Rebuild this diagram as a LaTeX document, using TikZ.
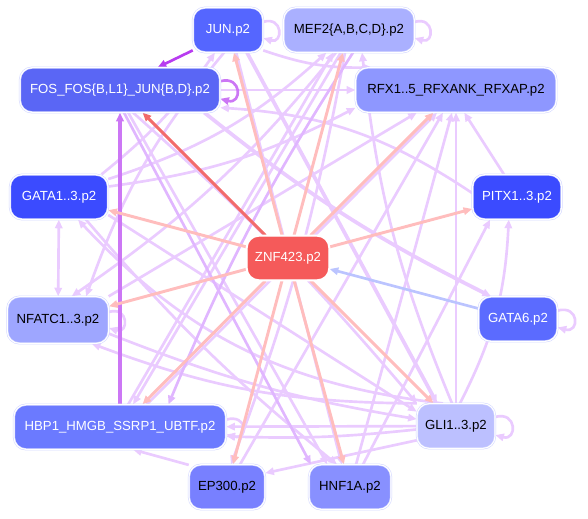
\documentclass[tikz,border=0pt]{standalone}
\usepackage{fontspec}
\setmainfont{Liberation Sans}
\usetikzlibrary{arrows.meta,backgrounds}
\definecolor{deepblue}{HTML}{3B4BFF}
\definecolor{junblue}{HTML}{5566FF}
\definecolor{fosblue}{HTML}{5A66F5}
\definecolor{gsixblue}{HTML}{5B6BFF}
\definecolor{hbpblue}{HTML}{6B7AFF}
\definecolor{epblue}{HTML}{7880FF}
\definecolor{hnfblue}{HTML}{8890FF}
\definecolor{rfxblue}{HTML}{8E97FF}
\definecolor{nfatblue}{HTML}{9EA6FF}
\definecolor{mefblue}{HTML}{AAB0FF}
\definecolor{gliblue}{HTML}{BCC0FF}
\definecolor{znfred}{HTML}{F55A5A}
\definecolor{rim}{HTML}{D2D6FF}
\definecolor{lilac}{HTML}{EACBFF}
\definecolor{lilacdark}{HTML}{E0B6FF}
\definecolor{orchid}{HTML}{CC77F5}
\definecolor{violet}{HTML}{B83CF0}
\definecolor{rosy}{HTML}{FFBDBD}
\definecolor{rosydark}{HTML}{F26B6B}
\definecolor{paleblue}{HTML}{BBC4FF}

\begin{document}
\begin{tikzpicture}[x=0.75pt, y=-0.75pt, >={Triangle[length=6.5pt,width=5.5pt]},
    font=\fontsize{9.9}{12}\selectfont,
    tf/.style={rounded corners=9pt, draw=rim, double=white, double distance=0.8pt,
      line width=0.4pt, minimum height=33.5pt, inner sep=0pt},
    lil/.style={->, draw=lilac, line width=2pt},
    lilbold/.style={->, draw=lilac, line width=2.8pt},
    rose/.style={->, draw=rosy, line width=2.2pt}]
  \useasboundingbox (0,0) rectangle (588,518);

  % transcription factor nodes
  \node[tf, fill=junblue, text=white, minimum width=52.5pt] (jun) at (228,30) {JUN.p2};
  \node[tf, fill=mefblue, minimum width=98pt] (mef) at (349,30) {MEF2\{A,B,C,D\}.p2};
  \node[tf, fill=fosblue, text=white, minimum width=150pt] (fos) at (120,90) {FOS\_FOS\{B,L1\}\_JUN\{B,D\}.p2};
  \node[tf, fill=rfxblue, minimum width=150.5pt] (rfx) at (456,90) {RFX1..5\_RFXANK\_RFXAP.p2};
  \node[tf, fill=deepblue, text=white, minimum width=73.5pt] (gata) at (59,197) {GATA1..3.p2};
  \node[tf, fill=deepblue, text=white, minimum width=66.75pt] (pitx) at (517,197) {PITX1..3.p2};
  \node[tf, fill=znfred, draw=white, text=white, minimum width=62pt] (znf) at (288,258) {ZNF423.p2};
  \node[tf, fill=gsixblue, text=white, minimum width=59pt] (gsix) at (518,319) {GATA6.p2};
  \node[tf, fill=nfatblue, minimum width=76pt, minimum height=35pt] (nfatc) at (58,320) {NFATC1..3.p2};
  \node[tf, fill=hbpblue, text=white, minimum width=159pt] (hbp) at (120,427) {HBP1\_HMGB\_SSRP1\_UBTF.p2};
  \node[tf, fill=gliblue, minimum width=58.5pt] (gli) at (456,426) {GLI1..3.p2};
  \node[tf, fill=epblue, minimum width=57pt] (ep) at (227,487) {EP300.p2};
  \node[tf, fill=hnfblue, minimum width=61.5pt] (hnf) at (350,487) {HNF1A.p2};

  \begin{scope}[on background layer]
    % light regulation edges
    \draw[lil] (fos) -- (rfx);
    \draw[lil] (jun.-30) to[bend right=10] (rfx.165);
    \draw[lil] (mef.-120) to[bend left=8] (nfatc.60);
    \draw[lil] (mef.-110) -- (hbp.60);
    \draw[lil] (mef.-100) to[bend left=5] (ep.80);
    \draw[lil] (gata.20) to[bend right=12] (mef.-135);
    \draw[lil] (gata.12) to[bend right=10] (rfx.-170);
    \draw[lil] (gata.28) to[bend right=8] (jun.-120);
    \draw[lil, <->] (gata) -- (nfatc);
    \draw[lil] (gata.-20) -- (gli.160);
    \draw[lil] (gata.-40) to[bend right=5] (hnf.120);
    \draw[lil] (nfatc.-15) to[bend right=6] (gli.170);
    \draw[lil] (nfatc.25) -- (rfx.-150);
    \draw[lil] (ep.150) -- (hbp.-60);
    \draw[lil] (gli.-160) -- (ep.20);
    \draw[lil] (gli) -- (hbp);
    \draw[lil] (gli.-175) to[bend left=4] (hbp.-5);
    \draw[lil] (gli) -- (rfx);
    \draw[lil] (gli.120) to[bend left=20] (gata.-50);
    \draw[lil] (gli.150) to[bend left=10] (nfatc.-35);
    \draw[lil] (gli.100) to[bend left=8] (mef.-60);
    \draw[lil] (gli.80) to[bend right=12] (pitx.-110);
    \draw[lil] (pitx.120) -- (rfx.-70);
    \draw[lil] (pitx.175) to[bend right=15] (fos.-10);
    \draw[lil] (hnf.60) -- (pitx.-140);
    \draw[lil] (hnf.75) -- (rfx.-100);
    \draw[lil] (ep.60) -- (rfx.-120);
    \draw[lil] (hbp.40) -- (rfx.-130);
    \draw[lil] (hbp.70) -- (mef.-125);
    \draw[lil] (jun.-70) -- (hnf.110);
    \draw[lil] (fos.-70) -- (hnf.135);
    \draw[lil] (fos.-60) to[bend left=4] (gli.150);
    \draw[lil] (jun.-100) to[bend right=10] (nfatc.40);
    \draw[lilbold] (jun.-50) -- (gli.130);
    \draw[lilbold] (fos.-15) to[bend right=6] (gsix.140);
    \draw[draw=lilacdark, line width=2pt, ->] (fos.-80) -- (hnf.150);
    \draw[draw=lilacdark, line width=2pt, ->] (mef.-80) to[bend right=5] (hbp.25);
    % self loops
    \draw[lil] (jun.13) .. controls +(20,-6) and +(20,6) .. (jun.-13);
    \draw[lil] (mef.7) .. controls +(20,-6) and +(20,6) .. (mef.-7);
    \draw[->, draw=orchid, line width=2pt] (fos.5) .. controls +(22,-6) and +(22,6) .. (fos.-5);
    \draw[lil] (nfatc.9) .. controls +(20,-6) and +(20,6) .. (nfatc.-9);
    \draw[lil] (hbp.4) .. controls +(22,-6) and +(22,6) .. (hbp.-4);
    \draw[lil] (gli.13) .. controls +(22,-6) and +(22,6) .. (gli.-13);
    \draw[lil] (gsix.12) .. controls +(22,-6) and +(22,6) .. (gsix.-12);
    % strong edges
    \draw[->, draw=violet, line width=2pt] (jun.-150) -- (fos.31);
    \draw[->, draw=orchid, line width=2.6pt] (hbp.90) -- (fos.-90);
    % ZNF423 edges
    \draw[->, draw=rosydark, line width=2.3pt] (znf) -- (fos);
    \draw[rose] (znf) -- (gata);
    \draw[rose] (znf) -- (nfatc);
    \draw[rose] (znf) -- (jun);
    \draw[rose] (znf) -- (mef);
    \draw[rose] (znf) -- (rfx);
    \draw[rose] (znf) -- (pitx);
    \draw[rose] (znf) -- (gli);
    \draw[rose] (znf) -- (hnf);
    \draw[rose] (znf) -- (ep);
    \draw[rose] (znf) -- (hbp);
    \draw[->, draw=paleblue, line width=2pt] (gsix) -- (znf);
  \end{scope}
\end{tikzpicture}
\end{document}
